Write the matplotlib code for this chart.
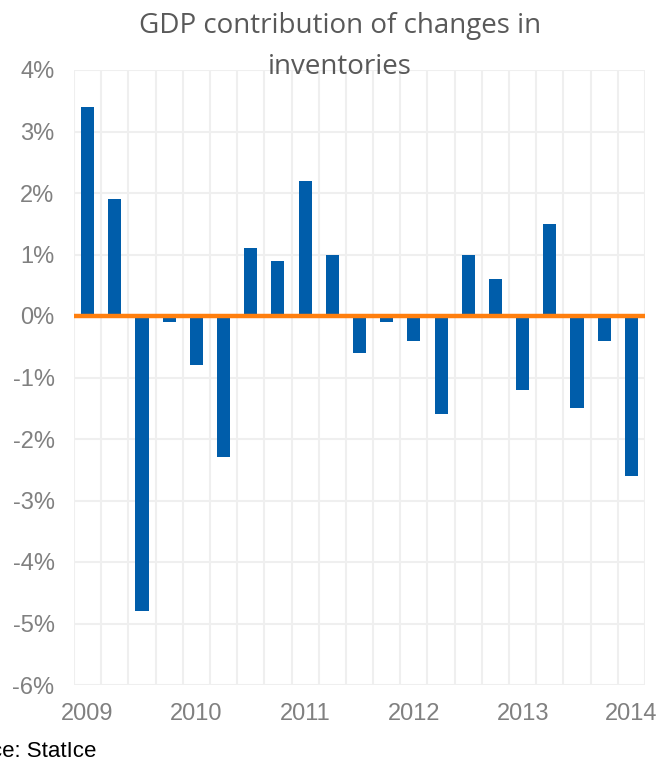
import matplotlib

matplotlib.use("Agg")
import matplotlib.pyplot as plt
import numpy as np


# Quarterly contribution of inventory changes to GDP growth, % points
contribution = [3.4, 1.9, -4.8, -0.1, -0.8, -2.3, 1.1, 0.9, 2.2, 1.0, -0.6,
                -0.1, -0.4, -1.6, 1.0, 0.6, -1.2, 1.5, -1.5, -0.4, -2.6]
year_labels = ["2009", "2010", "2011", "2012", "2013", "2014"]
year_positions = [0, 4, 8, 12, 16, 20]
y_ticks = [4, 3, 2, 1, 0, -1, -2, -3, -4, -5, -6]

BAR_COLOR = "#005DAA"
ZERO_COLOR = "#FF7F0E"
GRID_COLOR = "#EFEFEF"
TICK_COLOR = "#808080"

fig = plt.figure(figsize=(6.59, 7.64), dpi=100)
ax = fig.add_axes([74 / 659, 1 - 685 / 764, 571 / 659, 615 / 764])

x = np.arange(len(contribution))
ax.bar(x, contribution, width=0.48, color=BAR_COLOR, zorder=2)
ax.axhline(0, color=ZERO_COLOR, linewidth=3.2, zorder=3)

ax.set_xlim(-0.5, len(contribution) - 0.5)
ax.set_ylim(-6, 4)
ax.set_yticks(y_ticks)
ax.set_yticklabels([f"{t}%" for t in y_ticks])
ax.set_xticks(year_positions)
ax.set_xticklabels(year_labels)
ax.set_xticks(np.arange(-0.5, len(contribution)), minor=True)

ax.grid(axis="y", which="major", color=GRID_COLOR, linewidth=1.5, zorder=0)
ax.grid(axis="x", which="minor", color=GRID_COLOR, linewidth=1.5, zorder=0)
ax.grid(axis="x", which="major", visible=False)
for spine in ax.spines.values():
    spine.set_visible(False)
ax.tick_params(which="both", length=0)
ax.tick_params(axis="y", pad=14)
ax.tick_params(axis="x", pad=13)
for label in ax.get_xticklabels() + ax.get_yticklabels():
    label.set_fontfamily("Liberation Sans")
    label.set_fontsize(17)
    label.set_color(TICK_COLOR)

# title sits partly over the top of the plot area
fig.text(340 / 659, 1 - 12 / 764, "GDP contribution of changes in\ninventories",
         ha="center", va="top", fontsize=20, color="#595959",
         family="Open Sans", linespacing=1.6)
fig.text(96 / 659, 1 - 762 / 764, "Source: StatIce", ha="right", va="bottom",
         fontsize=16, color="black", family="Liberation Sans")

fig.savefig("out.png", dpi=100)
